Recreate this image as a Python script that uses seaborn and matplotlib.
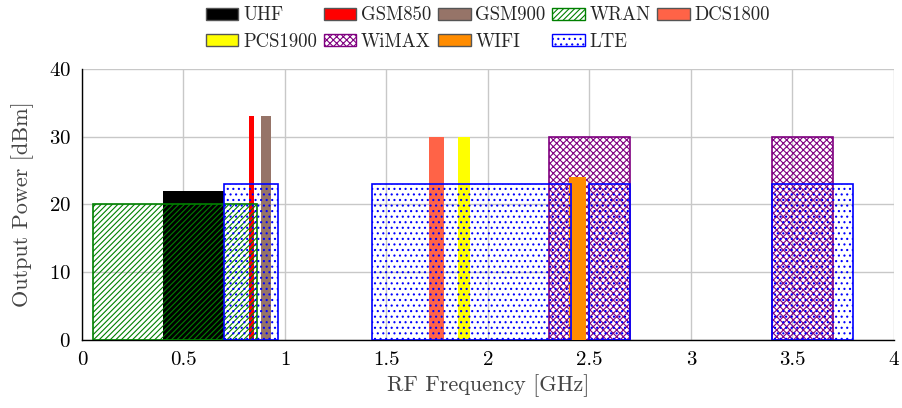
import matplotlib
matplotlib.use("Agg")
import matplotlib.pyplot as plt
import seaborn as sns
from matplotlib.patches import Patch

# frequency bands (GHz) and max output power (dBm)
band = ["UHF", "GSM850", "GSM900", "WRAN", "DCS1800", "PCS1900",
        "WiMAX", "WiMAX", "WIFI", "LTE", "LTE", "LTE", "LTE"]
f_start = [0.40, 0.824, 0.880, 0.054, 1.710, 1.850,
           2.300, 3.400, 2.400, 0.700, 1.430, 2.500, 3.400]
f_stop = [0.70, 0.849, 0.930, 0.862, 1.785, 1.910,
          2.700, 3.700, 2.4835, 0.964, 2.410, 2.700, 3.800]
power = [22, 33, 33, 20, 30, 30,
         30, 30, 24, 23, 23, 23, 23]

legend_order = ["UHF", "GSM850", "GSM900", "WRAN", "DCS1800",
                "PCS1900", "WiMAX", "WIFI", "LTE"]

style = {
    "UHF": dict(facecolor="black", edgecolor="none", hatch=None),
    "GSM850": dict(facecolor="red", edgecolor="none", hatch=None),
    "GSM900": dict(facecolor="#967468", edgecolor="none", hatch=None),
    "WRAN": dict(facecolor="none", edgecolor="green", hatch="//////"),
    "DCS1800": dict(facecolor="#ff6347", edgecolor="none", hatch=None),
    "PCS1900": dict(facecolor="yellow", edgecolor="none", hatch=None),
    "WiMAX": dict(facecolor="none", edgecolor="purple", hatch="xxxxx"),
    "WIFI": dict(facecolor="#ff8c00", edgecolor="none", hatch=None),
    "LTE": dict(facecolor="none", edgecolor="blue", hatch="..."),
}

sns.set_theme(style="whitegrid")
plt.rcParams["font.family"] = ["cmr10", "DejaVu Serif"]
plt.rcParams["mathtext.fontset"] = "cm"
plt.rcParams["axes.formatter.use_mathtext"] = True
plt.rcParams["hatch.linewidth"] = 0.8

fig = plt.figure(figsize=(9.02, 4.08), dpi=100)
ax = fig.add_axes([0.0909, 0.1667, 0.9002, 0.6643])

for name in legend_order:
    for b, s, e, p in zip(band, f_start, f_stop, power):
        if b != name:
            continue
        st = style[b]
        ax.bar(s, p, width=e - s, align="edge", facecolor=st["facecolor"],
               edgecolor=st["edgecolor"], hatch=st["hatch"],
               linewidth=1.2 if st["hatch"] else 0, zorder=3)

ax.set_xlim(0, 4)
ax.set_ylim(0, 40)
ax.set_xticks([0, 0.5, 1, 1.5, 2, 2.5, 3, 3.5, 4])
ax.set_xticklabels(["0", "0.5", "1", "1.5", "2", "2.5", "3", "3.5", "4"])
ax.set_yticks([0, 10, 20, 30, 40])
ax.grid(True, color="#c8c8c8", linewidth=1)
ax.set_facecolor("white")
for side in ["top", "right"]:
    ax.spines[side].set_visible(False)
for side in ["left", "bottom"]:
    ax.spines[side].set_color("black")
    ax.spines[side].set_linewidth(1)
ax.tick_params(axis="both", direction="out", length=5, width=1,
               color="black", labelsize=15, labelcolor="black", pad=3)
ax.set_xlabel("RF Frequency [GHz]", fontsize=16, color="#444444", labelpad=4)
ax.set_ylabel("Output Power [dBm]", fontsize=16, color="#444444", labelpad=11)

# legend: fill column-wise so rows read like the reference
handles = {}
for name in legend_order:
    st = style[name]
    handles[name] = Patch(facecolor="white" if st["facecolor"] == "none" else st["facecolor"],
                          edgecolor=st["edgecolor"] if st["hatch"] else "#555555",
                          hatch=st["hatch"], linewidth=1)
order = ["UHF", "PCS1900", "GSM850", "WiMAX", "GSM900", "WIFI", "WRAN", "LTE", "DCS1800"]
ax.legend([handles[n] for n in order], order, ncol=5, loc="lower center",
          bbox_to_anchor=(0.5, 1.04), frameon=False, fontsize=13.5,
          handlelength=1.75, handleheight=0.6, columnspacing=0.35,
          handletextpad=0.25, labelspacing=0.45, borderaxespad=0)

fig.savefig("out.png", dpi=100)
